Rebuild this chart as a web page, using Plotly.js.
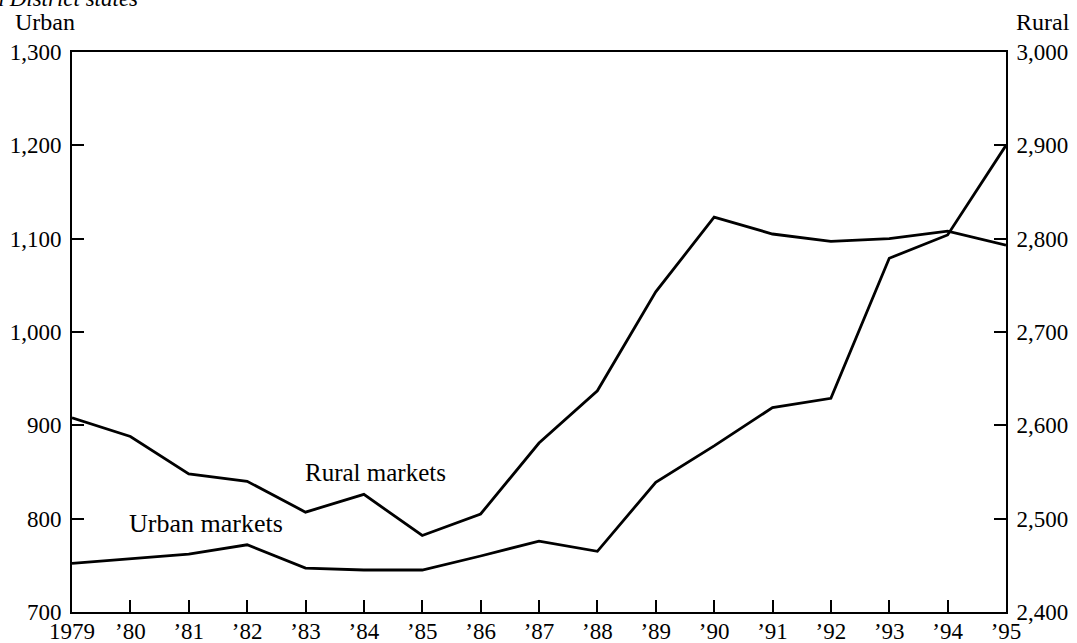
<!DOCTYPE html>
<html>
<head>
<meta charset="utf-8">
<script src="https://cdn.plot.ly/plotly-3.0.1.min.js"></script>
<style>html,body{margin:0;padding:0;background:#fff;}#chart{width:1077px;height:643px;}</style>
</head>
<body>
<div id="chart"></div>
<script>
var years = [1979,1980,1981,1982,1983,1984,1985,1986,1987,1988,1989,1990,1991,1992,1993,1994,1995];
var tickLabels = ["1979","’80","’81","’82","’83","’84","’85","’86","’87","’88","’89","’90","’91","’92","’93","’94","’95"];
var urbanMarkets = [752,757,762,772,747,745,745,760,776,765,839,878,919,929,1079,1104,1200];
var ruralMarkets = [2608,2588,2548,2540,2507,2526,2482,2505,2581,2637,2743,2823,2805,2797,2800,2808,2793];

var FONT = "Liberation Serif, serif";
var traces = [
  {x: years, y: urbanMarkets, type: "scatter", mode: "lines", name: "Urban markets",
   line: {color: "#000", width: 2.8}, yaxis: "y"},
  {x: years, y: ruralMarkets, type: "scatter", mode: "lines", name: "Rural markets",
   line: {color: "#000", width: 2.8}, yaxis: "y2"}
];
var layout = {
  width: 1077, height: 643,
  margin: {l: 72, r: 71, t: 52, b: 31},
  paper_bgcolor: "#fff", plot_bgcolor: "#fff",
  showlegend: false,
  font: {family: FONT, size: 23, color: "#000"},
  xaxis: {
    range: [1979, 1995], tickvals: years, ticktext: tickLabels,
    showgrid: false, zeroline: false, showline: true, linecolor: "#000", linewidth: 2,
    mirror: true, ticks: "inside", ticklen: 12, tickwidth: 2, tickcolor: "#000",
    ticklabelstandoff: -3,
    tickfont: {family: FONT, size: 23, color: "#000"}
  },
  yaxis: {
    range: [700, 1300], dtick: 100, tickformat: ",",
    showgrid: false, zeroline: false, showline: true, linecolor: "#000", linewidth: 2,
    ticks: "inside", ticklen: 12, tickwidth: 2, tickcolor: "#000",
    ticklabelstandoff: 4,
    tickfont: {family: FONT, size: 23, color: "#000"}
  },
  yaxis2: {
    range: [2400, 3000], dtick: 100, tickformat: ",", overlaying: "y", side: "right",
    showgrid: false, zeroline: false, showline: true, linecolor: "#000", linewidth: 2,
    ticks: "inside", ticklen: 12, tickwidth: 2, tickcolor: "#000",
    ticklabelstandoff: 4,
    tickfont: {family: FONT, size: 23, color: "#000"}
  },
  annotations: [
    {text: "in District states", xref: "paper", yref: "paper", x: 0.073, y: 1.095,
     xanchor: "right", yanchor: "middle", showarrow: false,
     font: {family: FONT, size: 23, color: "#000", style: "italic"}},
    {text: "Urban", xref: "paper", yref: "paper", x: -0.029, y: 1.053,
     xanchor: "center", yanchor: "middle", showarrow: false,
     font: {family: FONT, size: 24, color: "#000"}},
    {text: "Rural", xref: "paper", yref: "paper", x: 1.04, y: 1.053,
     xanchor: "center", yanchor: "middle", showarrow: false,
     font: {family: FONT, size: 24, color: "#000"}},
    {text: "Rural markets", xref: "x", yref: "y", x: 1984.2, y: 850,
     xanchor: "center", yanchor: "middle", showarrow: false,
     font: {family: FONT, size: 25, color: "#000"}},
    {text: "Urban markets", xref: "x", yref: "y", x: 1981.3, y: 795,
     xanchor: "center", yanchor: "middle", showarrow: false,
     font: {family: FONT, size: 26, color: "#000"}}
  ]
};
Plotly.newPlot("chart", traces, layout, {displayModeBar: false, staticPlot: true});
</script>
</body>
</html>
